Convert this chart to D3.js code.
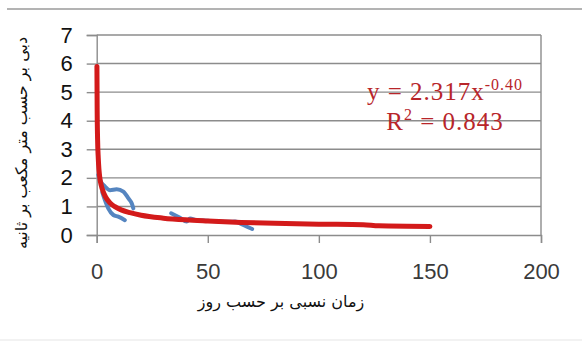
<!DOCTYPE html>
<html lang="fa">
<head>
    <meta charset="UTF-8">
    <title>Discharge vs time</title>
    <script src="https://d3js.org/d3.v7.min.js"></script>
    <style>
        body { margin: 0; background: #fff; }
    </style>
</head>
<body>
    <div id="chart"></div>
    <script>
        // observed discharge, drawn as separate blue pieces
        var obsUpperX = [0.7, 2, 3.7, 6, 9, 12, 14.3, 15.8, 16.5];
        var obsUpperY = [2.1, 1.85, 1.7, 1.57, 1.6, 1.52, 1.28, 1.1, 0.93];
        var obsLowerX = [2.5, 3.7, 5.2, 7.5, 9.7, 12.7];
        var obsLowerY = [1.5, 1.22, 0.93, 0.7, 0.64, 0.52];
        var obsLateX = [33.5, 37.5, 40.5, 42, 45, 50, 55, 60, 62.3, 66, 70];
        var obsLateY = [0.76, 0.6, 0.47, 0.58, 0.52, 0.5, 0.47, 0.46, 0.47, 0.35, 0.21];

        // power trendline
        var trendX = [0.1, 0.2, 0.4, 0.7, 1, 1.5, 2, 3, 4, 6, 8, 11, 15, 20, 30, 40, 50, 65, 80, 100, 120, 127, 150];
        var trendY = [5.9, 4.45, 3.35, 2.7, 2.3, 1.95, 1.75, 1.5, 1.33, 1.12, 1.0, 0.88, 0.78, 0.69, 0.59, 0.53, 0.49, 0.44, 0.41, 0.38, 0.36, 0.32, 0.3];

        var xTicks = [0, 50, 100, 150, 200];
        var yTicks = [0, 1, 2, 3, 4, 5, 6, 7];

        var yTitle = "دبی بر حسب متر مکعب بر ثانیه";
        var xTitle = "زمان نسبی بر حسب روز";

        var W = 582, H = 343;
        var margin = {top: 35, right: 541, bottom: 235, left: 96.7};

        var svg = d3.select("#chart").append("svg")
            .attr("width", W).attr("height", H);

        // outer frame pieces
        svg.append("line").attr("x1", 7).attr("x2", W).attr("y1", 9).attr("y2", 9)
            .attr("stroke", "#9a9a9a").attr("stroke-width", 1.5);
        svg.append("line").attr("x1", 0).attr("x2", W).attr("y1", 340).attr("y2", 340)
            .attr("stroke", "#eeeeee").attr("stroke-width", 1.5);

        var x = d3.scaleLinear().domain([0, 200]).range([margin.left, margin.right]);
        var y = d3.scaleLinear().domain([0, 7]).range([margin.bottom, margin.top]);

        // gridlines
        svg.append("g").selectAll("line").data(yTicks.slice(1)).enter().append("line")
            .attr("x1", margin.left).attr("x2", margin.right)
            .attr("y1", d => y(d)).attr("y2", d => y(d))
            .attr("stroke", "#8c8c8c").attr("stroke-width", 1.4);

        // right border of plot area
        svg.append("line").attr("x1", margin.right).attr("x2", margin.right)
            .attr("y1", margin.top).attr("y2", margin.bottom)
            .attr("stroke", "#8c8c8c").attr("stroke-width", 1.4);

        // axes
        var xAxis = svg.append("g").attr("transform", "translate(0," + margin.bottom + ")")
            .call(d3.axisBottom(x).tickValues(xTicks).tickSize(8).tickPadding(20));
        var yAxis = svg.append("g").attr("transform", "translate(" + margin.left + ",0)")
            .call(d3.axisLeft(y).tickValues(yTicks).tickFormat(d3.format("d")).tickSize(10).tickPadding(14));

        xAxis.select(".domain").attr("stroke", "#8c8c8c").attr("stroke-width", 1.4);
        yAxis.select(".domain").attr("stroke", "#8c8c8c").attr("stroke-width", 1.4);
        xAxis.selectAll(".tick line").attr("stroke", "#8c8c8c").attr("stroke-width", 1.4);
        yAxis.selectAll(".tick line").attr("stroke", "#8c8c8c").attr("stroke-width", 1.4);

        xAxis.selectAll("text")
            .attr("font-family", "Liberation Sans, Arial, sans-serif")
            .attr("font-size", 22).attr("fill", "#3a3a3a");
        yAxis.selectAll("text")
            .attr("font-family", "Liberation Sans, Arial, sans-serif")
            .attr("font-size", 22).attr("fill", "#111");

        // data lines
        var line = d3.line()
            .x(d => x(d[0])).y(d => y(d[1]))
            .curve(d3.curveMonotoneX);

        var pieces = [
            d3.zip(obsUpperX, obsUpperY),
            d3.zip(obsLowerX, obsLowerY),
            d3.zip(obsLateX, obsLateY)
        ];
        svg.append("g").selectAll("path").data(pieces).enter().append("path")
            .attr("d", line)
            .attr("fill", "none")
            .attr("stroke", "#5585c0")
            .attr("stroke-width", 4)
            .attr("stroke-linejoin", "round")
            .attr("stroke-linecap", "round");

        svg.append("path")
            .attr("d", line(d3.zip(trendX, trendY)))
            .attr("fill", "none")
            .attr("stroke", "#d31a1a")
            .attr("stroke-width", 5)
            .attr("stroke-linejoin", "round")
            .attr("stroke-linecap", "round");

        // equation label
        var eq = svg.append("text")
            .attr("x", 445).attr("y", 100)
            .attr("text-anchor", "middle")
            .attr("font-family", "Liberation Serif, Times New Roman, serif")
            .attr("font-size", 25).attr("letter-spacing", 1).attr("fill", "#b8252a");
        eq.append("tspan").text("y = 2.317x");
        eq.append("tspan").attr("font-size", 16).attr("dy", -10).text("-0.40");

        var r2 = svg.append("text")
            .attr("x", 445).attr("y", 130)
            .attr("text-anchor", "middle")
            .attr("font-family", "Liberation Serif, Times New Roman, serif")
            .attr("font-size", 25).attr("letter-spacing", 1).attr("fill", "#b8252a");
        r2.append("tspan").text("R");
        r2.append("tspan").attr("font-size", 16).attr("dy", -10).text("2");
        r2.append("tspan").attr("dy", 10).text(" = 0.843");

        // axis titles
        svg.append("text")
            .attr("transform", "translate(27,143) rotate(-90)")
            .attr("text-anchor", "middle")
            .attr("font-family", "DejaVu Sans, sans-serif")
            .attr("font-size", 16).attr("fill", "#111")
            .attr("direction", "rtl")
            .text(yTitle);

        svg.append("text")
            .attr("x", 281).attr("y", 307)
            .attr("text-anchor", "middle")
            .attr("font-family", "DejaVu Sans, sans-serif")
            .attr("font-size", 16).attr("fill", "#111")
            .attr("direction", "rtl")
            .text(xTitle);
    </script>
</body>
</html>
